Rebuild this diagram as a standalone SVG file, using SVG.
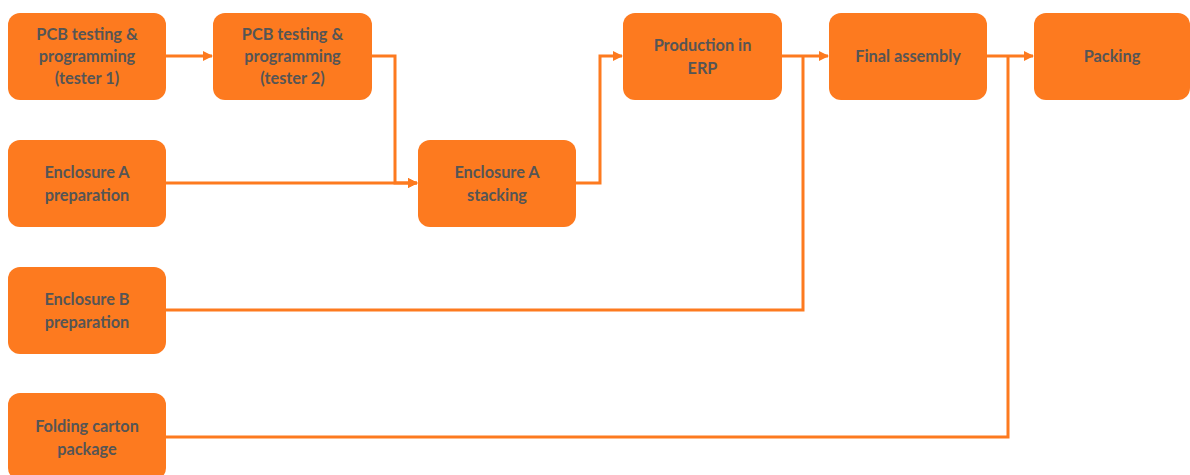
<svg xmlns="http://www.w3.org/2000/svg" width="1190" height="475" viewBox="0 0 1190 475">
<style>
.n{fill:#FD7A1F;}
.t{font-family:Lato,"Open Sans","Liberation Sans",sans-serif;font-weight:bold;font-size:16.3px;fill:#555555;text-anchor:middle;}
.c{fill:none;stroke:#FD7A1F;stroke-width:3;}
</style>
<defs>
<marker id="a" markerWidth="10" markerHeight="10" refX="9" refY="5" orient="auto" markerUnits="userSpaceOnUse">
<path d="M0,0 L10,5 L0,10 Z" fill="#FD7A1F"/>
</marker>
</defs>
<rect width="1190" height="475" fill="#fff"/>
<g id="connectors">
<path class="c" d="M166,56 H212" marker-end="url(#a)"/>
<path class="c" d="M372,56 H395 V183 H417" marker-end="url(#a)"/>
<path class="c" d="M166,183 H417" marker-end="url(#a)"/>
<path class="c" d="M576,183 H600 V56 H622" marker-end="url(#a)"/>
<path class="c" d="M782,56 H828" marker-end="url(#a)"/>
<path class="c" d="M166,310 H803 V56"/>
<path class="c" d="M987,56 H1033" marker-end="url(#a)"/>
<path class="c" d="M166,437 H1008 V56"/>
</g>
<g id="n1"><rect class="n" x="8" y="13" width="158" height="87" rx="12"/>
<text class="t" x="87" y="40">PCB testing &amp;</text><text class="t" x="87" y="62">programming</text><text class="t" x="87" y="84">(tester 1)</text></g>
<g id="n2"><rect class="n" x="213" y="13" width="159" height="87" rx="12"/>
<text class="t" x="292.5" y="40">PCB testing &amp;</text><text class="t" x="292.5" y="62">programming</text><text class="t" x="292.5" y="84">(tester 2)</text></g>
<g id="n3"><rect class="n" x="8" y="140" width="158" height="87" rx="12"/>
<text class="t" x="87" y="178">Enclosure A</text><text class="t" x="87" y="201">preparation</text></g>
<g id="n4"><rect class="n" x="418" y="140" width="158" height="87" rx="12"/>
<text class="t" x="497" y="178">Enclosure A</text><text class="t" x="497" y="201">stacking</text></g>
<g id="n5"><rect class="n" x="623" y="13" width="159" height="87" rx="12"/>
<text class="t" x="702.5" y="51">Production in</text><text class="t" x="702.5" y="74">ERP</text></g>
<g id="n6"><rect class="n" x="829" y="13" width="158" height="87" rx="12"/>
<text class="t" x="908" y="62">Final assembly</text></g>
<g id="n7"><rect class="n" x="1034" y="13" width="156" height="87" rx="12"/>
<text class="t" x="1112" y="62">Packing</text></g>
<g id="n8"><rect class="n" x="8" y="267" width="158" height="87" rx="12"/>
<text class="t" x="87" y="305">Enclosure B</text><text class="t" x="87" y="328">preparation</text></g>
<g id="n9"><rect class="n" x="8" y="393" width="158" height="87" rx="12"/>
<text class="t" x="87" y="432">Folding carton</text><text class="t" x="87" y="455">package</text></g>
</svg>
